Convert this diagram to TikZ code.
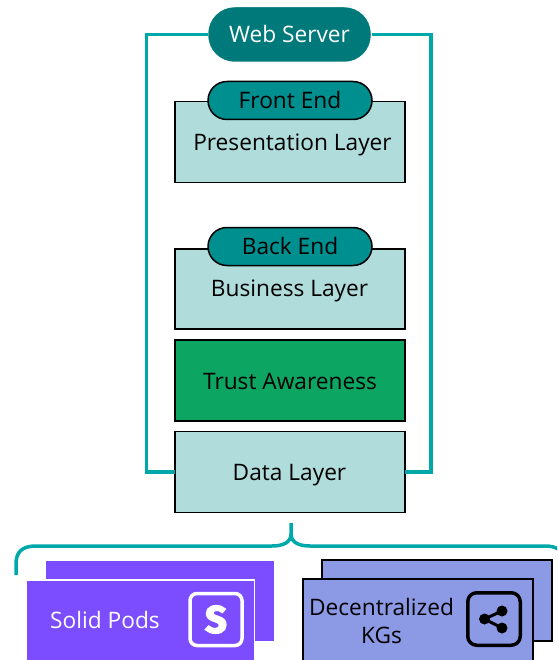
\documentclass[tikz,border=0pt]{standalone}
\usepackage{fontspec}
\setmainfont{Open Sans}
\newfontfamily\iconfont[BoldFeatures={FakeBold=4}]{Fira Sans}
\definecolor{frameTeal}{HTML}{00A9A9}
\definecolor{serverTeal}{HTML}{00797A}
\definecolor{pillTeal}{HTML}{008F8F}
\definecolor{layerFill}{HTML}{B0DCDC}
\definecolor{trustGreen}{HTML}{0DA562}
\definecolor{podPurple}{HTML}{7C4DFF}
\definecolor{kgBlue}{HTML}{8C9AE6}
\tikzset{
  x=1pt,y=-1pt,outer sep=0pt,
  lbl/.style={font=\fontsize{22.7}{26}\selectfont,inner sep=0pt,text=black},
  layerbox/.style={draw=black,line width=1.5pt,fill=layerFill,minimum width=230pt,minimum height=81pt,inner sep=0pt,anchor=north west},
  pill/.style={rounded corners=19pt,draw=black,line width=1.5pt,fill=pillTeal,minimum width=164pt,minimum height=38pt,inner sep=0pt,text depth=2pt,font=\fontsize{22.7}{26}\selectfont},
  framewire/.style={draw=frameTeal,line width=3.5pt},
  podcard/.style={fill=podPurple,minimum width=228pt,minimum height=80pt,inner sep=0pt,anchor=north west},
  kgcard/.style={fill=kgBlue,draw=black,line width=1.5pt,minimum width=230pt,minimum height=81pt,inner sep=0pt,anchor=north west},
}
\begin{document}
\begin{tikzpicture}
\clip (0,0) rectangle (557,660);
\fill[white] (0,0) rectangle (557,660);
% layers
\node[layerbox] (pres) at (175,101.5) {};
\node[layerbox,minimum height=80pt] (biz) at (175,249) {};
\node[layerbox,fill=trustGreen] (trust) at (175,340) {};
\node[layerbox] (data) at (175,431.5) {};
\node[lbl] (presT) at (292.5,145) {Presentation Layer};
\node[lbl] (bizT) at (289.5,291) {Business Layer};
\node[lbl] (trustT) at (290,381) {Trust Awareness};
\node[lbl] (dataT) at (289.5,475) {Data Layer};
\node[pill] (fe) at (290,100.5) {Front End};
\node[pill] (be) at (290,246.5) {Back End};
\node[pill,draw=white,fill=serverTeal,rounded corners=27pt,minimum width=164pt,minimum height=56pt,text=white] (web) at (289.5,34.5) {Web Server};
% frame
\draw[framewire] (web.west) -- (146.5,34.5) |- (data.west);
\draw[framewire] (web.east) -- (431,34.5) |- (data.east);
% brace
\coordinate (tip) at (291,523);
\draw[framewire,line cap=butt] (tip) -- (291,534) .. controls (291,543) and (282,546) .. (272,546) -- (36,546) .. controls (22,546) and (16,552) .. (16,564) -- (16,575);
\draw[framewire] (291,534) .. controls (291,543) and (300,546) .. (310,546) -- (545,546) .. controls (551,546) and (555,547) .. (560,550);
% solid pods
\node[podcard] (podB) at (46,561) {};
\node[podcard,draw=white,line width=1.5pt,minimum height=90pt] (podF) at (26.5,580) {};
\node[font=\fontsize{22.7}{26}\selectfont,text=white,inner sep=0pt] (podT) at (105,620) {Solid Pods};
\node[draw=white,line width=3.5pt,rounded corners=7pt,minimum width=52pt,minimum height=52pt,inner sep=0pt,font=\iconfont\bfseries\fontsize{38}{38}\selectfont,text=white] (podI) at (216,619.5) {S};
% KGs
\node[kgcard] (kgB) at (322,560) {};
\node[kgcard,minimum height=95pt] (kgF) at (303,579) {};
\node[lbl,align=center,font=\fontsize{22.7}{28}\selectfont] (kgT) at (381.5,621) {Decentralized\\KGs};
\node[draw=black,line width=3.5pt,rounded corners=9pt,minimum width=52.5pt,minimum height=52.5pt,inner sep=0pt] (kgI) at (494,619) {};
\coordinate (shareA) at (502,611);
\coordinate (shareB) at (484.5,619);
\coordinate (shareC) at (502,628);
\draw[black,line width=3pt] (shareA) -- (shareB) -- (shareC);
\fill[black] (shareA) circle (5.5pt) (shareB) circle (5.5pt) (shareC) circle (5.5pt);
\end{tikzpicture}
\end{document}
